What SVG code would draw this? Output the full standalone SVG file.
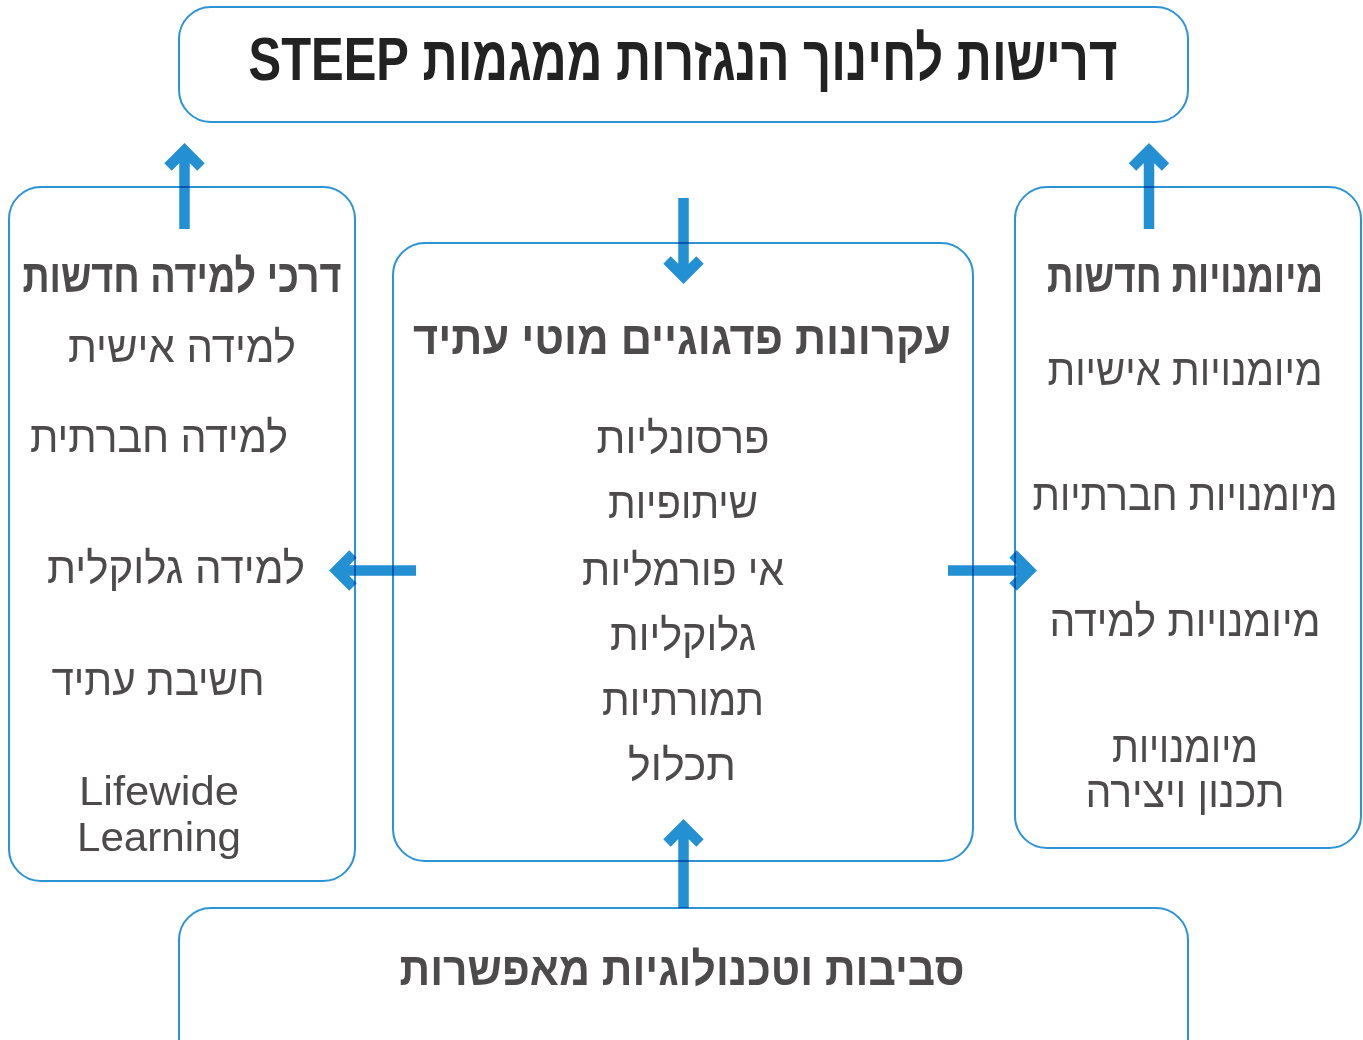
<svg xmlns="http://www.w3.org/2000/svg" width="1363" height="1040" viewBox="0 0 1363 1040">
<style>
.box{fill:none;stroke:#2b93d6;stroke-width:2;mix-blend-mode:multiply}
.arr{fill:none;stroke:#2390d3;stroke-width:10.5;stroke-linejoin:miter;stroke-linecap:butt}
.t{font-family:"Liberation Sans","DejaVu Sans",sans-serif;fill:#4d4a4b;text-anchor:middle;direction:rtl}
.it{font-size:44px;font-weight:normal}
.hd{font-size:46px;font-weight:bold}
.ttl{font-size:62px;font-weight:bold;fill:#222}
.en{font-family:"Liberation Sans",sans-serif;font-size:40px;fill:#4d4a4b;text-anchor:middle}
</style>
<rect width="1363" height="1040" fill="#fff"/>
<g id="connectors">
<path class="arr" d="M184.5 229V152M168 167L184.5 150.5L201 167"/>
<path class="arr" d="M1149 229V152M1132.5 167L1149 150.5L1165.5 167"/>
<path class="arr" d="M683.5 198V276M667 260L683.5 276.5L700 260"/>
<path class="arr" d="M683.5 908V828M667 843L683.5 826.5L700 843"/>
<path class="arr" d="M416 570.5H338M353 554L336.5 570.5L353 587"/>
<path class="arr" d="M948 570.5H1028M1013 554L1029.5 570.5L1013 587"/>
</g>
<g id="top">
<rect class="box" x="179" y="7" width="1009" height="115" rx="32"/>
<text class="t ttl" x="683" y="80" textLength="869" lengthAdjust="spacingAndGlyphs">דרישות לחינוך הנגזרות ממגמות STEEP</text>
</g>
<g id="left">
<rect class="box" x="9" y="187" width="346" height="694" rx="32"/>
<text class="t hd" x="182" y="292" textLength="319" lengthAdjust="spacingAndGlyphs">דרכי למידה חדשות</text>
<text class="t it" x="182" y="362" textLength="228" lengthAdjust="spacingAndGlyphs">למידה אישית</text>
<text class="t it" x="159" y="452" textLength="258" lengthAdjust="spacingAndGlyphs">למידה חברתית</text>
<text class="t it" x="176" y="583" textLength="258" lengthAdjust="spacingAndGlyphs">למידה גלוקלית</text>
<text class="t it" x="158" y="695" textLength="213" lengthAdjust="spacingAndGlyphs">חשיבת עתיד</text>
<text class="en" x="159" y="805" textLength="160" lengthAdjust="spacingAndGlyphs">Lifewide</text>
<text class="en" x="159" y="851" textLength="164" lengthAdjust="spacingAndGlyphs">Learning</text>
</g>
<g id="center">
<rect class="box" x="393" y="243" width="580" height="618" rx="32"/>
<text class="t hd" x="682" y="354" textLength="538" lengthAdjust="spacingAndGlyphs">עקרונות פדגוגיים מוטי עתיד</text>
<text class="t it" x="683" y="453" textLength="173" lengthAdjust="spacingAndGlyphs">פרסונליות</text>
<text class="t it" x="683" y="518" textLength="150" lengthAdjust="spacingAndGlyphs">שיתופיות</text>
<text class="t it" x="683" y="585" textLength="202" lengthAdjust="spacingAndGlyphs">אי פורמליות</text>
<text class="t it" x="683" y="650" textLength="146" lengthAdjust="spacingAndGlyphs">גלוקליות</text>
<text class="t it" x="683" y="715" textLength="162" lengthAdjust="spacingAndGlyphs">תמורתיות</text>
<text class="t it" x="682" y="780" textLength="108" lengthAdjust="spacingAndGlyphs">תכלול</text>
</g>
<g id="right">
<rect class="box" x="1015" y="187" width="346" height="661" rx="32"/>
<text class="t hd" x="1185" y="292" font-size="40" textLength="276" lengthAdjust="spacingAndGlyphs">מיומנויות חדשות</text>
<text class="t it" x="1185" y="385" textLength="275" lengthAdjust="spacingAndGlyphs">מיומנויות אישיות</text>
<text class="t it" x="1185" y="510" font-size="39" textLength="305" lengthAdjust="spacingAndGlyphs">מיומנויות חברתיות</text>
<text class="t it" x="1185" y="636" textLength="271" lengthAdjust="spacingAndGlyphs">מיומנויות למידה</text>
<text class="t it" x="1185" y="762" textLength="146" lengthAdjust="spacingAndGlyphs">מיומנויות</text>
<text class="t it" x="1185" y="807" textLength="199" lengthAdjust="spacingAndGlyphs">תכנון ויצירה</text>
</g>
<g id="bottom">
<rect class="box" x="179" y="908" width="1009" height="170" rx="32"/>
<text class="t hd" x="682" y="985" textLength="565" lengthAdjust="spacingAndGlyphs">סביבות וטכנולוגיות מאפשרות</text>
</g>
</svg>
